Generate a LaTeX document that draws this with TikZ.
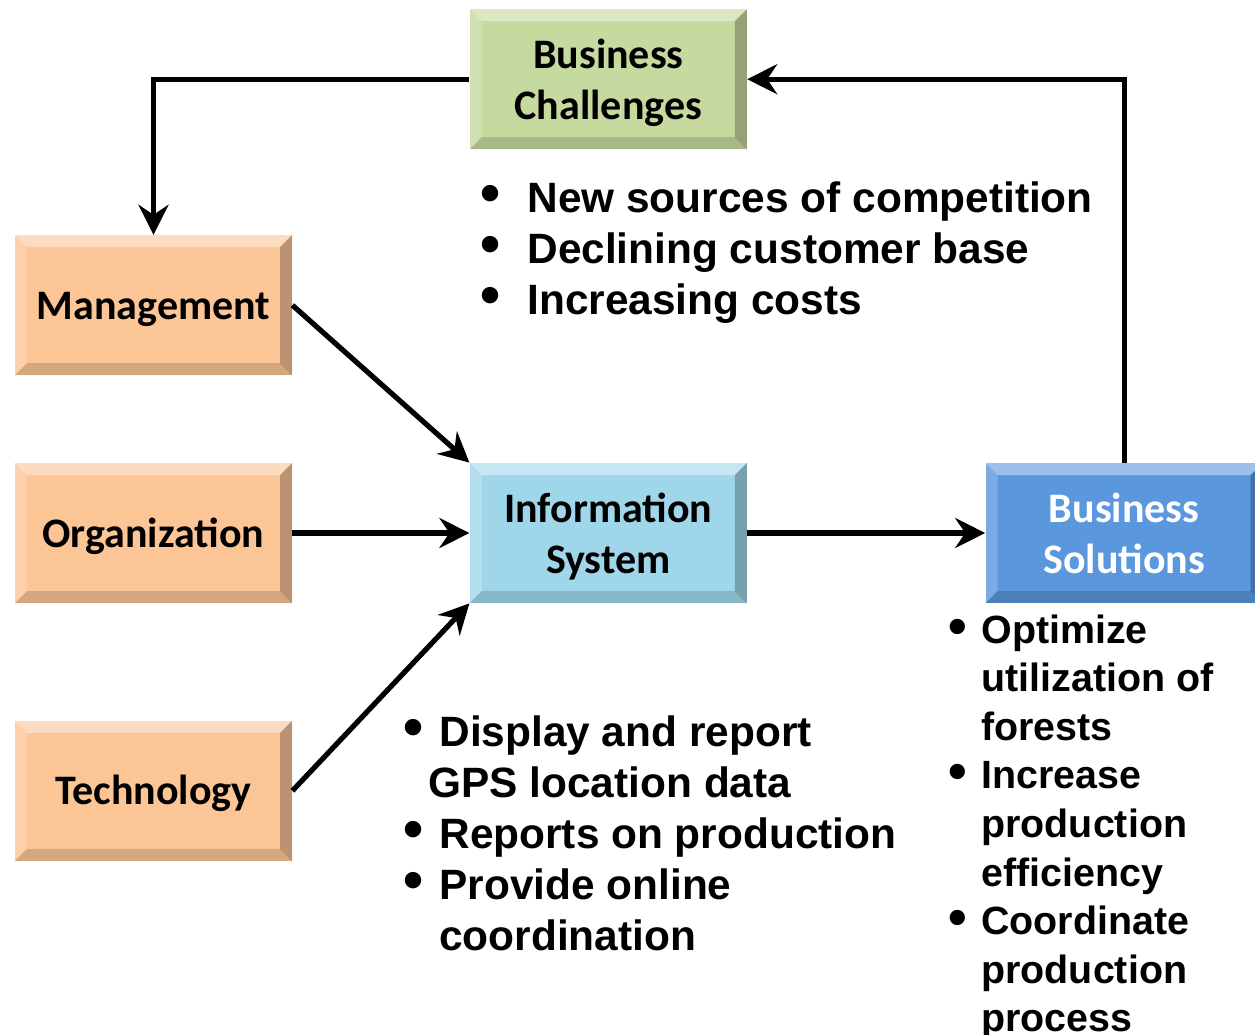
\documentclass[tikz,border=0pt]{standalone}
\usepackage{fontspec}
\setmainfont{Liberation Sans}
\newfontfamily\boxfont{Carlito}
\usepackage{xcolor}
\usepackage{graphicx}
\usetikzlibrary{calc}
\usetikzlibrary{positioning, arrows.meta}

\definecolor{chalgreen}{HTML}{C6D99E}
\definecolor{peach}{HTML}{FBC596}
\definecolor{isblue}{HTML}{9FD6EA}
\definecolor{solblue}{HTML}{5A97DC}

\newcommand{\bul}[2][0pt]{\llap{\raisebox{#1}{\scalebox{1.35}{\textbullet}}\hspace{#2}}}

\begin{document}
\begin{tikzpicture}[x=0.5pt, y=-0.5pt,
    bevel/.style = {path picture={
        \coordinate (nw) at (path picture bounding box.north west);
        \coordinate (ne) at (path picture bounding box.north east);
        \coordinate (sw) at (path picture bounding box.south west);
        \coordinate (se) at (path picture bounding box.south east);
        \fill[white, opacity=0.4] (nw) -- (ne) -- ($(ne)+(-6pt,-6pt)$) -- ($(nw)+(6pt,-6pt)$) -- cycle;
        \fill[white, opacity=0.2] (nw) -- (sw) -- ($(sw)+(6pt,6pt)$) -- ($(nw)+(6pt,-6pt)$) -- cycle;
        \fill[black, opacity=0.25] (ne) -- (se) -- ($(se)+(-6pt,6pt)$) -- ($(ne)+(-6pt,-6pt)$) -- cycle;
        \fill[black, opacity=0.15] (sw) -- (se) -- ($(se)+(-6pt,6pt)$) -- ($(sw)+(6pt,6pt)$) -- cycle;
    }},
    blk/.style = {bevel, minimum width=138.5pt, minimum height=70pt, inner sep=0pt, align=center,
        font=\boxfont\bfseries\fontsize{21}{25.5}\selectfont,
        execute at begin node=\rule{0pt}{19pt}, execute at end node=\rule[-5pt]{0pt}{5pt}},
    twoline/.style = {text depth=-1pt},
    item/.style = {anchor=base west, inner sep=0pt, font=\bfseries\fontsize{21.2}{25.5}\selectfont},
    smallitem/.style = {item, font=\bfseries\fontsize{19.7}{24}\selectfont},
    flow/.style = {line width=2.6pt, -{Stealth[length=15pt, width=15pt, inset=5pt]}}]

    \useasboundingbox (0,0) rectangle (1255,1035);

    % boxes
    \node[blk, fill=peach] (org) at (153.5,533) {Organization};
    \node[blk, fill=peach] (mgmt) [above=43.5pt of org] {Management};
    \node[blk, fill=peach] (tech) [below=58.5pt of org] {Technology};
    \node[blk, twoline, fill=isblue] (infosys) [right=88.5pt of org] {Information\\System};
    \node[blk, twoline, fill=solblue, text=white] (sol) [right=119pt of infosys] {Business\\Solutions};
    \node[blk, twoline, fill=chalgreen] (chal) [above=156.5pt of infosys] {Business\\Challenges};

    % connectors
    \draw[flow] (chal.west) -| (mgmt.north);
    \draw[flow] (sol.north) |- (chal.east);
    \draw[flow] (mgmt.east) -- (infosys.north west);
    \draw[flow] (org.east) -- (infosys.west);
    \draw[flow] (tech.east) -- (infosys.south west);
    \draw[flow] (infosys.east) -- (sol.west);

    % bullet lists
    \foreach \txt [count=\i from 0] in {New sources of competition, Declining customer base, Increasing costs}
        \node[item] (chl\i) at (527,{212+51*\i}) {\bul{13.6pt}\txt};

    \foreach \x/\txt [count=\i from 0] in {439/\bul{8pt}Display and report, 428/GPS location data,
            439/\bul{8pt}Reports on production, 439/\bul{8pt}Provide online, 439/coordination}
        \node[item] (isl\i) at (\x,{746+51*\i}) {\txt};

    \foreach \txt [count=\i from 0] in {\bul[-0.5pt]{7pt}Optimize, utilization of, forests,
            \bul[-0.5pt]{7pt}Increase, production, efficiency, \bul[-0.5pt]{7pt}Coordinate, production, process}
        \node[smallitem] (soll\i) at (981,{643+48.6*\i}) {\txt};
\end{tikzpicture}
\end{document}
